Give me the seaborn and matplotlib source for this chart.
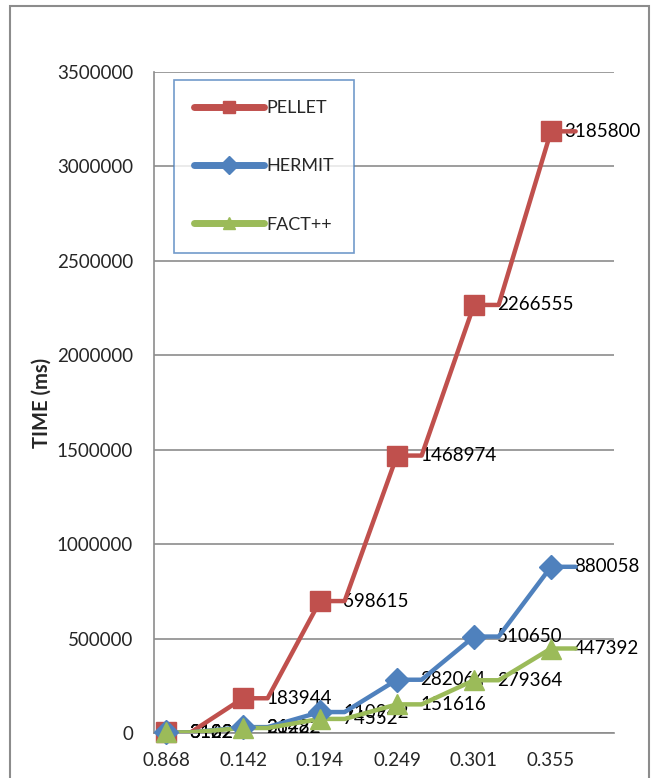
import matplotlib
matplotlib.use("Agg")
import matplotlib.pyplot as plt
import seaborn as sns
import pandas as pd
import numpy as np
from matplotlib.lines import Line2D
from matplotlib.patches import Rectangle

categories = ["0.868", "0.142", "0.194", "0.249", "0.301", "0.355"]
pellet = [3182, 183944, 698615, 1468974, 2266555, 3185800]
hermit = [3122, 31222, 110942, 282064, 510650, 880058]
factpp = [3162, 26482, 74552, 151616, 279364, 447392]
series_names = ["PELLET", "HERMIT", "FACT++"]
y_ticks = [0, 500000, 1000000, 1500000, 2000000, 2500000, 3000000, 3500000]

colors = {"PELLET": "#C0504D", "HERMIT": "#4F81BD", "FACT++": "#9BBB59"}
markers = {"PELLET": "s", "HERMIT": "D", "FACT++": "^"}
msizes = {"PELLET": 15, "HERMIT": 12, "FACT++": 15}

sns.set_theme(style="white")
plt.rcParams['font.family'] = ['Lato', 'DejaVu Sans']

W, H = 653, 778
fig = plt.figure(figsize=(W / 100, H / 100), dpi=100)
ax = fig.add_axes([154 / W, (H - 733) / H, (614 - 154) / W, (733 - 72) / H])

shift = 0.32
rows = []
for name, vals in zip(series_names, [pellet, hermit, factpp]):
    for i, v in enumerate(vals):
        rows.append({"series": name, "x": i, "y": v, "order": 2 * i})
        rows.append({"series": name, "x": i + shift, "y": v, "order": 2 * i + 1})
df_line = pd.DataFrame(rows)
df_pts = pd.DataFrame([{"series": n, "x": i, "y": v}
                       for n, vals in zip(series_names, [pellet, hermit, factpp])
                       for i, v in enumerate(vals)])

ax.set_axisbelow(True)
ax.yaxis.grid(True, color="#8C8C8C", linewidth=1.2)
ax.xaxis.grid(False)

for name in series_names:
    d = df_line[df_line.series == name].sort_values("order")
    sns.lineplot(data=d, x="x", y="y", sort=False, ax=ax, color=colors[name],
                 linewidth=3.2, legend=False, zorder=4, estimator=None)
    p = df_pts[df_pts.series == name]
    ax.plot(p.x, p.y, linestyle="none", marker=markers[name], markersize=msizes[name],
            color=colors[name], markeredgecolor=colors[name], zorder=5, clip_on=False)

ax.set_xlim(-12 / 77, (614 - 166) / 77)
ax.set_ylim(0, 3500000)

labels = []
for name, vals in zip(series_names, [pellet, hermit, factpp]):
    for i, v in enumerate(vals):
        t = ax.annotate(str(v), (i, v), xytext=(23, 0), textcoords="offset pixels",
                        ha="left", va="center", fontsize=13.5, color="black", zorder=3,
                        annotation_clip=False)
        labels.append(t)

ax.set_yticks(y_ticks)
ax.set_yticklabels([str(t) for t in y_ticks], fontsize=13.5)
ax.set_xticks(range(len(categories)))
ax.set_xticklabels(categories, fontsize=13.5)
ax.tick_params(axis="y", length=0, pad=15)
ax.tick_params(axis="x", length=0, pad=14)
ax.set_xlabel("")
ax.set_ylabel("TIME (ms)", fontsize=14.5, fontweight="bold", labelpad=4)
for s in ["top", "right"]:
    ax.spines[s].set_visible(False)
for s in ["left", "bottom"]:
    ax.spines[s].set_color("#8C8C8C")
    ax.spines[s].set_linewidth(1.2)

handles = [Line2D([0], [0], color=colors[n], linewidth=5, marker=markers[n],
                  markersize=9, solid_capstyle="round") for n in series_names]
leg = ax.legend(handles, series_names, loc="upper left",
                bbox_to_anchor=((174 - 154) / 460, (733 - 80) / 661),
                frameon=True, fancybox=False, fontsize=13, handlelength=3.9,
                labelspacing=2.35, borderpad=1.1, handletextpad=0.1,
                borderaxespad=0)
leg.get_frame().set_edgecolor("#4F81BD")
leg.get_frame().set_linewidth(1.2)

# keep data labels inside the chart area (shift left if they would overflow)
fig.canvas.draw()
renderer = fig.canvas.get_renderer()
limit = 641
for t in labels:
    bb = t.get_window_extent(renderer)
    if bb.x1 > limit:
        t.xyann = (23 - (bb.x1 - limit), 0)

border = Rectangle((10 / W, -0.1), (649 - 10) / W, (H - 6) / H + 0.1,
                   transform=fig.transFigure, fill=False, edgecolor="#8C8C8C",
                   linewidth=1.5)
fig.patches.append(border)

fig.savefig("out.png", dpi=100)
